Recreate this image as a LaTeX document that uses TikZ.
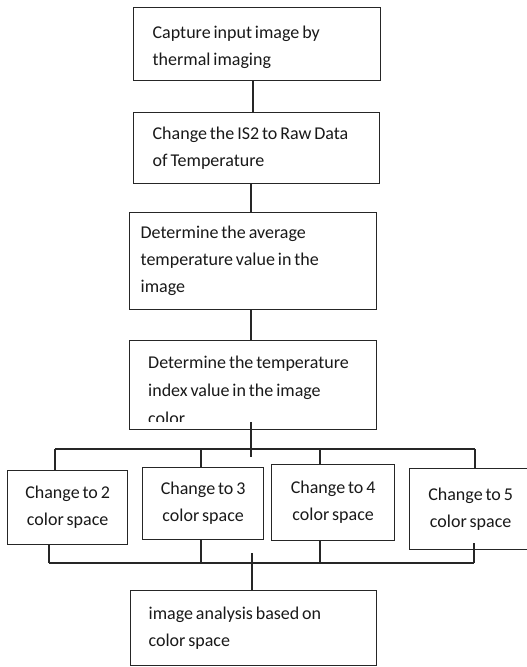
\documentclass[tikz,border=0pt]{standalone}
\usepackage{fontspec}
\setmainfont{Carlito}
\newcommand{\tightspaces}{\spaceskip=0.16em plus 0.05em minus 0.02em\relax}
\begin{document}
\begin{tikzpicture}[x=1pt,y=-1pt,
  line/.style={draw=black!85, line width=1.3pt},
  box/.style={line, rectangle, inner sep=0pt, anchor=north west,
    font=\fontsize{18}{27}\selectfont, text=black!90,
    execute at begin node=\tightspaces},
  lbox/.style={box, align=left},
  cbox/.style={box, align=center},
  txt/.style={inner sep=0pt, font=\fontsize{18}{28}\selectfont, text=black!90, align=left,
    execute at begin node=\tightspaces}]
\clip (0,0) rectangle (527,667);
\fill[white] (0,0) rectangle (527,667);
% main boxes
\node[lbox, minimum width=247, minimum height=73, text width=209] (b1) at (133,7)
  {\rule{0pt}{19pt}Capture input image by\\thermal imaging};
\node[lbox, minimum width=246, minimum height=71, text width=208] (b2) at (133,112)
  {Change the IS2 to Raw Data\\of Temperature};
\node[lbox, minimum width=247, minimum height=97, text width=225] (b3) at (129,212)
  {Determine the average\\temperature value in the\\image};
\node[box, minimum width=247, minimum height=89] (b4) at (129,340) {};
\begin{scope}
  \clip (129,340) rectangle (376,421);
  \node[txt, anchor=north west] (t4) at (148,356)
    {Determine the temperature\\index value in the image\\color};
\end{scope}
% small boxes
\node[cbox, minimum width=120, minimum height=74] (s1) at (7,470)
  {Change to 2\\color space};
\node[cbox, minimum width=121, minimum height=72] (s2) at (142,467)
  {Change to 3\\color space};
\node[cbox, minimum width=123, minimum height=76] (s3) at (271,464)
  {Change to 4\\color space};
\node[cbox, minimum width=122, minimum height=81] (s4) at (409,468)
  {Change to 5\\color space};
% final box
\node[lbox, minimum width=246, minimum height=75, text width=210] (b5) at (130,590)
  {image analysis based on\\color space};
% helper coordinates
\coordinate (x1) at (253,0);
\coordinate (xt) at (251,0);
\coordinate (topL) at (55,449);
\coordinate (topR) at (475,449);
\coordinate (botL) at (49,563);
\coordinate (botR) at (474,563);
\coordinate (b4in) at (251,422);
\coordinate (b4end) at (251,457);
\coordinate (cstart) at (252,553);
% connectors
\draw[line] (b1.south -| x1) -- (b2.north -| x1);
\draw[line] (b2.south -| xt) -- (b3.north -| xt);
\draw[line] (b3.south -| xt) -- (b4.north -| xt);
\draw[line] (b4in) -- (b4end);
\draw[line] (topL) -- (topR);
\draw[line] (topL) -- (topL |- s1.north);
\draw[line] (201,449) -- (s2.north -| 201,0);
\draw[line] (320,449) -- (s3.north -| 320,0);
\draw[line] (topR) -- (topR |- s4.north);
\draw[line] (botL) -- (botR);
\draw[line] (botL) -- (botL |- s1.south);
\draw[line] (201,563) -- (s2.south -| 201,0);
\draw[line] (320,563) -- (s3.south -| 320,0);
\draw[line] (botR) -- (474,543);
\draw[line] (cstart) -- (b5.north -| cstart);
\end{tikzpicture}
\end{document}
